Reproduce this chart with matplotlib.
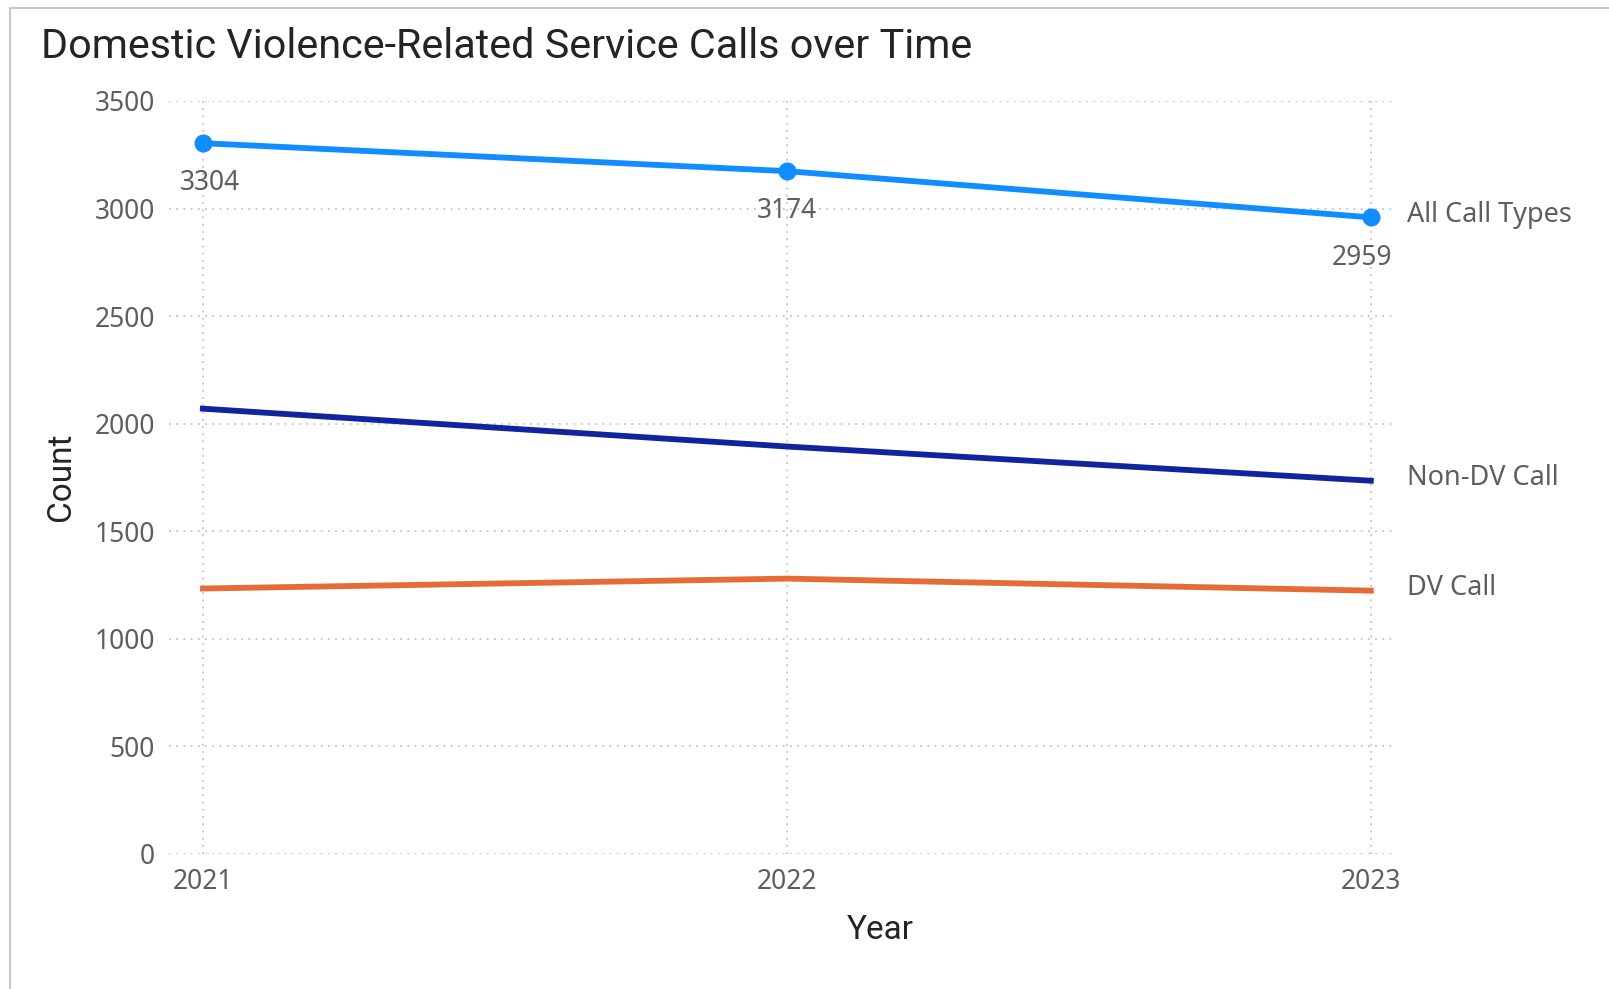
import matplotlib.pyplot as plt
from matplotlib.patches import Rectangle

# data
years = [2021, 2022, 2023]
all_calls = [3304, 3174, 2959]
non_dv = [2070, 1894, 1735]
dv = [1234, 1280, 1224]

blue = '#118DFF'
navy = '#12239E'
orange = '#E66C37'
gray = '#605E5C'

W, H = 1609, 989
fig = plt.figure(figsize=(W / 100, H / 100), dpi=100)
ax = fig.add_axes([169 / W, 1 - 854 / H, 1224 / W, 753 / H])

ax.plot(years, all_calls, color=blue, lw=4.2, marker='o', ms=12, zorder=3)
ax.plot(years, non_dv, color=navy, lw=4.2, zorder=3)
ax.plot(years, dv, color=orange, lw=4.2, zorder=3)

ax.set_xlim(2020.942, 2023.038)
ax.set_ylim(0, 3500)
ax.set_xticks(years)
ax.set_yticks(range(0, 3501, 500))
ax.tick_params(length=0, labelsize=19, labelcolor=gray)
ax.tick_params(axis='y', pad=10)
ax.tick_params(axis='x', pad=10)
for lab in ax.get_xticklabels() + ax.get_yticklabels():
    lab.set_family('Noto Sans')
for s in ax.spines.values():
    s.set_visible(False)
ax.grid(True, color='#c4c4c4', lw=1.3, linestyle=(0, (1, 3)))
ax.set_axisbelow(True)

# data labels under the points
shifts = [5, 0, -6]
for x, y, dx in zip(years, all_calls, shifts):
    ax.annotate(str(y), (x, y), xytext=(dx, -29), textcoords='offset points',
                ha='center', va='center', fontsize=19, color=gray, family='Noto Sans')

# series names at line ends
for vals, name in [(all_calls, 'All Call Types'), (non_dv, 'Non-DV Call'), (dv, 'DV Call')]:
    ax.annotate(name, (years[-1], vals[-1]), xytext=(26, 2), textcoords='offset points',
                ha='left', va='center', fontsize=19.5, color=gray, family='Noto Sans',
                annotation_clip=False)

fig.text(41 / W, 1 - 47 / H, 'Domestic Violence-Related Service Calls over Time',
         fontsize=29.8, color='#252423', ha='left', va='center', family='Roboto')
fig.text(880 / W, 1 - 930 / H, 'Year', fontsize=24, color='#252423',
         ha='center', va='center', family='Roboto')
fig.text(61 / W, 1 - 477 / H, 'Count', fontsize=24, color='#252423', rotation=90,
         ha='center', va='center', family='Roboto')

# light frame around the visual
fig.patches.append(Rectangle((10 / W, -0.05), 1.2, 1 - 8 / H + 0.05, transform=fig.transFigure,
                             fill=False, edgecolor='#c8c8c8', lw=1.5))

fig.savefig('out.png', dpi=100)
